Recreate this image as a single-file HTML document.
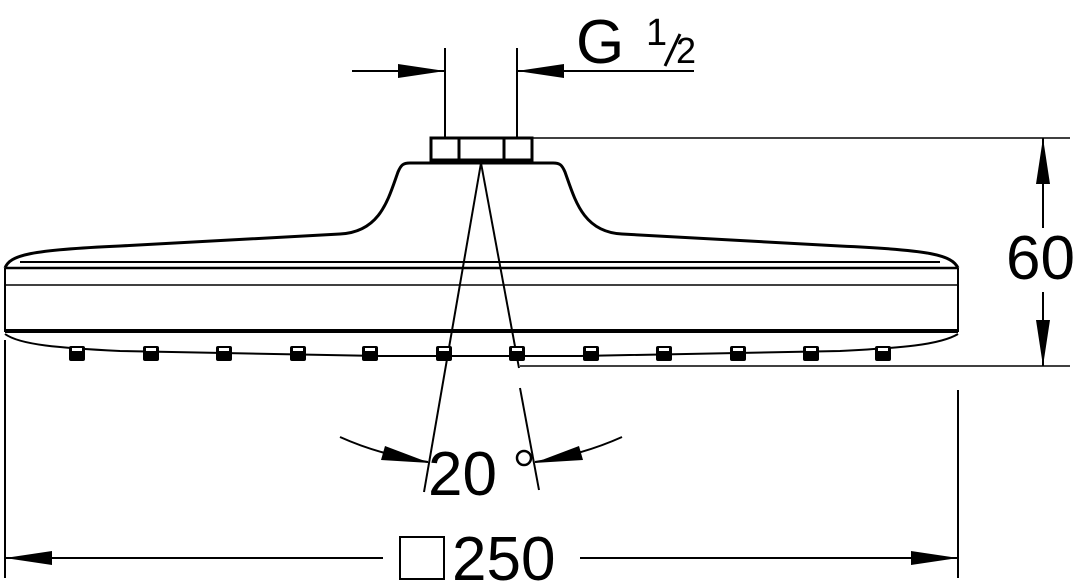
<!DOCTYPE html>
<html><head><meta charset="utf-8"><style>
html,body{margin:0;padding:0;background:#fff;width:1080px;height:586px;overflow:hidden}
svg{display:block}
text{font-family:"Liberation Sans",sans-serif;fill:#000}
</style></head><body>
<svg width="1080" height="586" viewBox="0 0 1080 586" xmlns="http://www.w3.org/2000/svg">
<defs>
<g id="nz"><rect x="-8" y="346" width="16" height="15" rx="2" fill="#000"/><rect x="-5" y="348" width="10" height="3" fill="#fff"/></g>
</defs>
<g fill="none" stroke="#000">
<rect x="431" y="138" width="101" height="22" stroke-width="3"/>
<line x1="459" y1="138" x2="459" y2="160" stroke-width="3"/>
<line x1="504" y1="138" x2="504" y2="160" stroke-width="3"/>
<path d="M5,268 C10,255 30,250 120,246 L340,234 C380,232 388,200 398,172 C401,165 403,163 410,163 L553,163 C560,163 562,165 565,172 C575,200 583,232 622,234 L840,246 C930,250 952,255 958,268" stroke-width="3"/>
<line x1="5" y1="268" x2="958" y2="268" stroke-width="2.5"/>
<line x1="20" y1="262" x2="940" y2="262" stroke-width="2"/>
<line x1="5" y1="285" x2="958" y2="285" stroke-width="1.5"/>
<line x1="5" y1="268" x2="5" y2="332" stroke-width="2"/>
<line x1="958" y1="268" x2="958" y2="332" stroke-width="2"/>
<line x1="5" y1="331" x2="958" y2="331" stroke-width="4"/>
<path d="M5,334 C20,345 60,348 120,351 L380,356 L580,356 L840,351 C900,348 940,345 958,334" stroke-width="2"/>
<line x1="481" y1="163" x2="424" y2="492" stroke-width="2"/>
<line x1="481" y1="163" x2="519" y2="368" stroke-width="2"/>
<line x1="520" y1="388" x2="539" y2="490" stroke-width="2"/>
<path d="M340,437 Q380,455 428,462" stroke-width="2"/>
<path d="M622,437 Q582,455 535,462" stroke-width="2"/>
<line x1="445" y1="48" x2="445" y2="137" stroke-width="2"/>
<line x1="517" y1="48" x2="517" y2="137" stroke-width="2"/>
<line x1="352" y1="71" x2="445" y2="71" stroke-width="2"/>
<line x1="517" y1="71" x2="694" y2="71" stroke-width="2"/>
<line x1="533" y1="138" x2="1070" y2="138" stroke-width="1.5"/>
<line x1="520" y1="366" x2="1070" y2="366" stroke-width="1.5"/>
<line x1="1043" y1="138" x2="1043" y2="228" stroke-width="2"/>
<line x1="1043" y1="292" x2="1043" y2="366" stroke-width="2"/>
<line x1="5" y1="340" x2="5" y2="578" stroke-width="2"/>
<line x1="958" y1="390" x2="958" y2="578" stroke-width="2"/>
<line x1="5" y1="558" x2="383" y2="558" stroke-width="2"/>
<line x1="580" y1="558" x2="958" y2="558" stroke-width="2"/>
<rect x="400" y="537" width="44" height="42" stroke-width="2"/>
</g>
<use href="#nz" x="77"/><use href="#nz" x="151"/><use href="#nz" x="224"/><use href="#nz" x="298"/><use href="#nz" x="370"/><use href="#nz" x="444"/><use href="#nz" x="517"/><use href="#nz" x="591"/><use href="#nz" x="664"/><use href="#nz" x="738"/><use href="#nz" x="811"/><use href="#nz" x="883"/>
<g fill="#000">
<polygon points="445,71 398,64 398,78"/>
<polygon points="517,71 564,64 564,78"/>
<polygon points="1043,138 1036,184 1050,184"/>
<polygon points="1043,366 1036,320 1050,320"/>
<polygon points="5,558 52,551 52,565"/>
<polygon points="958,558 911,551 911,565"/>
<polygon points="430,463 385,446 381,460"/>
<polygon points="534,463 579,446 583,460"/>
</g>
<text x="576" y="63" font-size="62">G</text>
<text x="646" y="45" font-size="38">1</text>
<line x1="680" y1="34" x2="665" y2="66" stroke="#000" stroke-width="3"/>
<text x="676" y="63" font-size="36">2</text>
<text x="1006" y="279" font-size="62">60</text>
<text x="428" y="495" font-size="62">20</text>
<circle cx="524" cy="458" r="7" fill="none" stroke="#000" stroke-width="2.5"/>
<text x="452" y="580" font-size="62">250</text>
</svg>
</body></html>
